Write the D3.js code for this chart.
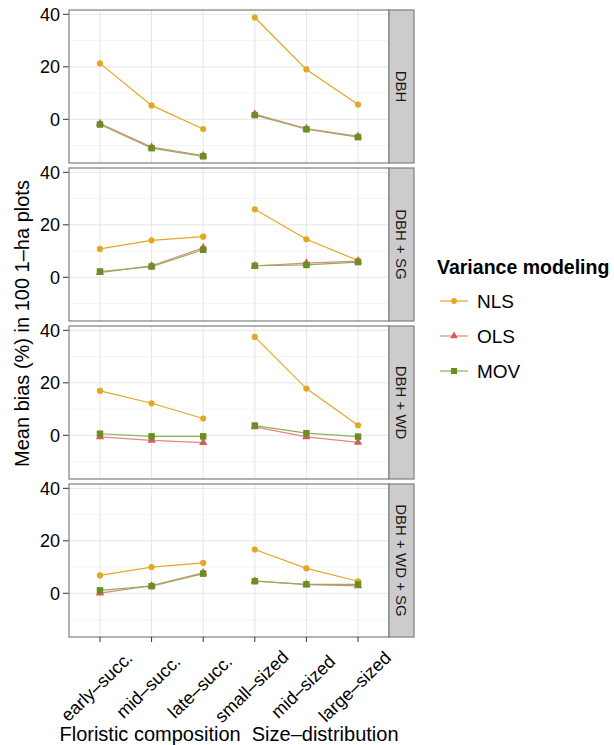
<!DOCTYPE html>
<html>
<head>
<meta charset="utf-8">
<title>bias</title>
<script src="https://d3js.org/d3.v7.min.js"></script>
<style>
    body { margin: 0; background: #fff; }
    svg text { font-family: "Liberation Sans", Arial, Helvetica, sans-serif; }
    .tick-label { font-size: 18px; fill: #000; }
    .axis-title { font-size: 20px; fill: #000; white-space: pre; }
    .strip-text { font-size: 15px; fill: #1a1a1a; }
    .legend-title { font-size: 19.5px; font-weight: bold; }
    .legend-text { font-size: 19px; }
</style>
</head>
<body>
<script>
    var categories = ["early\u2013succ.", "mid\u2013succ.", "late\u2013succ.", "small\u2013sized", "mid\u2013sized", "large\u2013sized"];
    var facets = ["DBH", "DBH + SG", "DBH + WD", "DBH + WD + SG"];
    var methods = ["NLS", "OLS", "MOV"];
    var yTicks = [0, 20, 40];
    var yMinor = [-10, 10, 30];

    // values per facet, 6 categories each
    var nls = [
        [21.3, 5.3, -3.7, 38.8, 19.0, 5.6],
        [10.8, 14.1, 15.5, 25.9, 14.5, 6.4],
        [16.9, 12.2, 6.4, 37.5, 17.8, 3.8],
        [6.8, 10.0, 11.6, 16.7, 9.5, 4.6]
    ];
    var ols = [
        [-1.6, -10.6, -13.8, 2.0, -3.5, -6.5],
        [1.8, 4.4, 11.2, 4.4, 5.4, 6.2],
        [-0.6, -1.9, -2.8, 3.2, -0.6, -2.7],
        [0.1, 2.9, 7.8, 4.7, 3.3, 2.8]
    ];
    var mov = [
        [-2.0, -11.0, -14.1, 1.6, -3.8, -6.8],
        [2.2, 4.1, 10.5, 4.4, 4.7, 5.8],
        [0.6, -0.4, -0.4, 3.7, 0.8, -0.5],
        [1.1, 2.7, 7.5, 4.6, 3.4, 3.4]
    ];
    var seriesValues = { NLS: nls, OLS: ols, MOV: mov };

    var pointColor = { NLS: "#E3A822", OLS: "#D65C5C", MOV: "#6B8E23" };
    var lineColor = { NLS: "#E3A822", OLS: "#E38686", MOV: "#8FB05A" };

    var W = 614, H = 745;
    var panelLeft = 69, panelRight = 389, stripW = 25;
    var panelTop = 10, panelH = 153, panelGap = 5;

    var svg = d3.select("body").append("svg")
        .attr("width", W).attr("height", H);

    var x = d3.scalePoint()
        .domain(categories)
        .range([panelLeft, panelRight])
        .padding(0.6);

    var y = d3.scaleLinear()
        .domain([-16.65, 41.65])
        .range([panelH, 0]);

    function symbolOf(m) {
        return m === "NLS" ? d3.symbolCircle : (m === "OLS" ? d3.symbolTriangle : d3.symbolSquare);
    }

    facets.forEach(function (f, fi) {
        var top = panelTop + fi * (panelH + panelGap);
        var g = svg.append("g").attr("transform", "translate(0," + top + ")");

        g.append("rect")
            .attr("x", panelLeft).attr("y", 0)
            .attr("width", panelRight - panelLeft).attr("height", panelH)
            .attr("fill", "#fff");

        // minor grid
        g.selectAll(".minor").data(yMinor).enter().append("line")
            .attr("x1", panelLeft).attr("x2", panelRight)
            .attr("y1", function (d) { return y(d); })
            .attr("y2", function (d) { return y(d); })
            .attr("stroke", "#F2F2F2").attr("stroke-width", 0.8);
        // major grid
        g.selectAll(".major").data(yTicks).enter().append("line")
            .attr("x1", panelLeft).attr("x2", panelRight)
            .attr("y1", function (d) { return y(d); })
            .attr("y2", function (d) { return y(d); })
            .attr("stroke", "#E5E5E5").attr("stroke-width", 1);
        g.selectAll(".vgrid").data(categories).enter().append("line")
            .attr("x1", function (d) { return x(d); })
            .attr("x2", function (d) { return x(d); })
            .attr("y1", 0).attr("y2", panelH)
            .attr("stroke", "#E5E5E5").attr("stroke-width", 1);

        // y axis ticks
        g.selectAll(".ytick").data(yTicks).enter().append("line")
            .attr("x1", panelLeft - 6).attr("x2", panelLeft)
            .attr("y1", function (d) { return y(d); })
            .attr("y2", function (d) { return y(d); })
            .attr("stroke", "#333").attr("stroke-width", 1);
        g.selectAll(".ylab").data(yTicks).enter().append("text")
            .attr("class", "tick-label")
            .attr("x", panelLeft - 9)
            .attr("y", function (d) { return y(d); })
            .attr("dy", "0.36em")
            .attr("text-anchor", "end")
            .text(function (d) { return d; });

        // lines, two groups (floristic / size)
        methods.forEach(function (m) {
            var vals = seriesValues[m][fi];
            [[0, 1, 2], [3, 4, 5]].forEach(function (idx) {
                var pts = idx.map(function (i) { return [x(categories[i]), y(vals[i])]; });
                g.append("path")
                    .attr("d", d3.line()(pts))
                    .attr("fill", "none")
                    .attr("stroke", lineColor[m])
                    .attr("stroke-width", 1.2);
            });
        });

        // points
        methods.forEach(function (m) {
            var vals = seriesValues[m][fi];
            var size = m === "MOV" ? 42 : 30;
            g.selectAll(".pt-" + m).data(vals).enter().append("path")
                .attr("transform", function (d, i) {
                    return "translate(" + x(categories[i]) + "," + y(d) + ")";
                })
                .attr("d", d3.symbol().type(symbolOf(m)).size(size))
                .attr("fill", pointColor[m]);
        });

        // panel border
        g.append("rect")
            .attr("x", panelLeft).attr("y", 0)
            .attr("width", panelRight - panelLeft).attr("height", panelH)
            .attr("fill", "none").attr("stroke", "#7F7F7F").attr("stroke-width", 1.2);

        // strip
        g.append("rect")
            .attr("x", panelRight).attr("y", 0)
            .attr("width", stripW).attr("height", panelH)
            .attr("fill", "#CCCCCC").attr("stroke", "#7F7F7F").attr("stroke-width", 1.2);
        g.append("text")
            .attr("class", "strip-text")
            .attr("transform", "translate(" + (panelRight + stripW / 2) + "," + (panelH / 2) + ") rotate(90)")
            .attr("text-anchor", "middle")
            .attr("dy", "0.36em")
            .text(f);
    });

    // x axis
    var bottom = panelTop + 4 * panelH + 3 * panelGap;
    svg.selectAll(".xtick").data(categories).enter().append("line")
        .attr("x1", function (d) { return x(d); })
        .attr("x2", function (d) { return x(d); })
        .attr("y1", bottom).attr("y2", bottom + 5)
        .attr("stroke", "#333").attr("stroke-width", 1);
    svg.selectAll(".xlab").data(categories).enter().append("text")
        .attr("class", "tick-label")
        .attr("transform", function (d) {
            return "translate(" + (x(d) + 1) + "," + (bottom + 54) + ") rotate(-44)";
        })
        .attr("text-anchor", "middle")
        .text(function (d) { return d; });

    svg.append("text")
        .attr("class", "axis-title")
        .attr("x", 229)
        .attr("y", 741)
        .attr("text-anchor", "middle")
        .text("Floristic composition  Size\u2013distribution");

    svg.append("text")
        .attr("class", "axis-title")
        .attr("transform", "translate(29," + (bottom / 2 + 5) + ") rotate(-90)")
        .attr("text-anchor", "middle")
        .text("Mean bias (%) in 100 1\u2013ha plots");

    // legend
    var lg = svg.append("g").attr("transform", "translate(437,0)");
    lg.append("text").attr("class", "legend-title")
        .attr("x", 0).attr("y", 274)
        .text("Variance modeling");
    methods.forEach(function (m, i) {
        var cy = 301 + i * 35;
        lg.append("line")
            .attr("x1", 3).attr("x2", 31)
            .attr("y1", cy).attr("y2", cy)
            .attr("stroke", lineColor[m]).attr("stroke-width", 1.2);
        lg.append("path")
            .attr("transform", "translate(17," + cy + ")")
            .attr("d", d3.symbol().type(symbolOf(m)).size(m === "MOV" ? 36 : 26))
            .attr("fill", pointColor[m]);
        lg.append("text").attr("class", "legend-text")
            .attr("x", 40).attr("y", cy).attr("dy", "0.36em")
            .text(m);
    });
</script>
</body>
</html>
